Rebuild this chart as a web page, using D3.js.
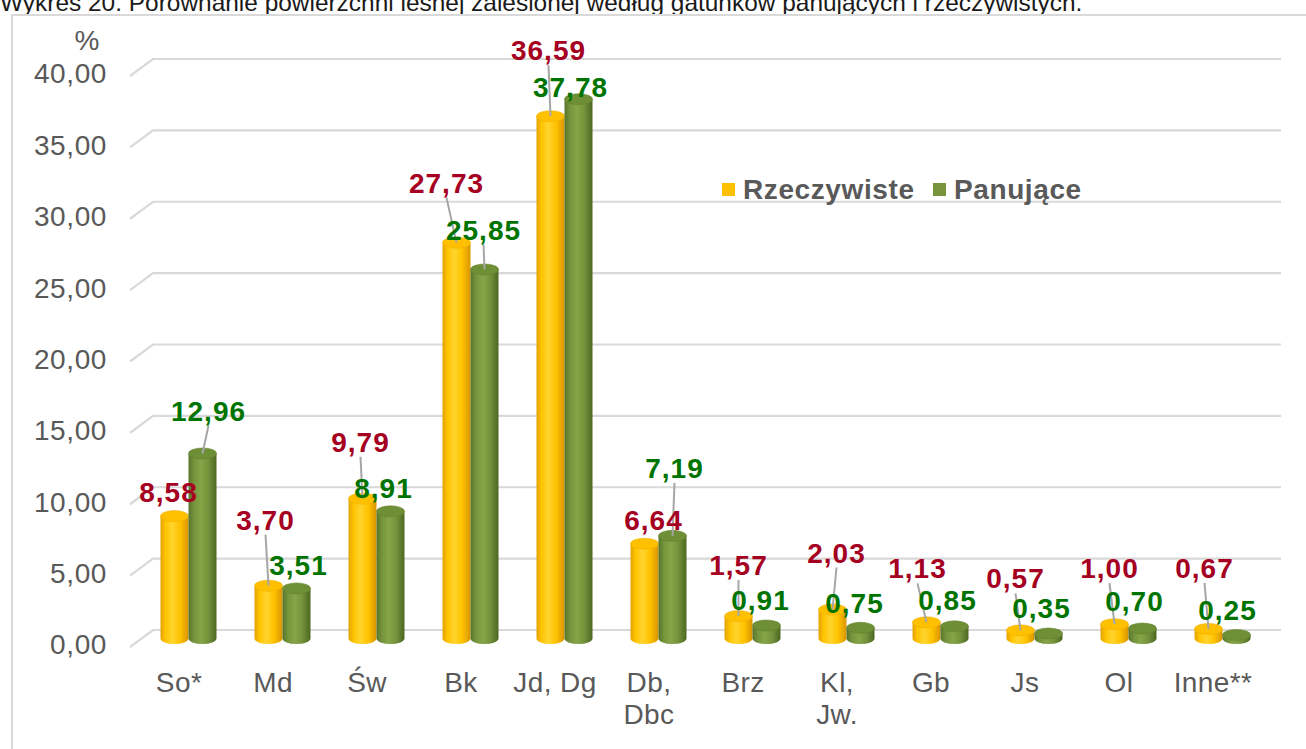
<!DOCTYPE html>
<html><head><meta charset="utf-8">
<script src="https://cdn.jsdelivr.net/npm/d3@7"></script>
<style>body{margin:0;background:#fff}svg{display:block}text{font-family:"Liberation Sans",Arial,sans-serif}</style>
</head><body>
<svg id="c" width="1306" height="749"></svg>
<script>
const titleText = "Wykres 20. Porównanie powierzchni leśnej zalesionej według gatunków panujących i rzeczywistych.";
const categories = ["So*","Md","Św","Bk","Jd, Dg","Db,\nDbc","Brz","Kl,\nJw.","Gb","Js","Ol","Inne**"];
const seriesNames = ["Rzeczywiste","Panujące"];
const rzeczywiste = [8.58,3.70,9.79,27.73,36.59,6.64,1.57,2.03,1.13,0.57,1.00,0.67];
const panujace = [12.96,3.51,8.91,25.85,37.78,7.19,0.91,0.75,0.85,0.35,0.70,0.25];
const yTicks = [0,5,10,15,20,25,30,35,40];
// manual label nudges (dx, dy from bar top), as placed in the original
const nudgeR = [[-6,-24],[-3,-66],[-2,-57],[-10,-60],[-2,-66],[9,-24],[0,-51],[4,-57],[-9,-54],[-5,-52],[-5,-56],[-4,-61]];
const nudgeP = [[6,-43],[2,-23],[-7,-23],[-1,-40],[-8,-12],[2,-68],[-6,-26],[-6,-25],[-7,-26],[-7,-26],[-8,-28],[-9,-25]];

const fmt = v => d3.format(".2f")(v).replace(".", ",");
const svg = d3.select("#c");
const defs = svg.append("defs");
function grad(id, stops){
  const g = defs.append("linearGradient").attr("id", id).attr("x1","0%").attr("x2","100%").attr("y1","0%").attr("y2","0%");
  stops.forEach(s => g.append("stop").attr("offset", s[0]).attr("stop-color", s[1]));
}
grad("gY", [["0%","#E3A200"],["18%","#FFC400"],["42%","#FFD42E"],["70%","#FFC300"],["100%","#D89500"]]);
grad("gG", [["0%","#56742A"],["20%","#76953D"],["45%","#85A548"],["72%","#72913A"],["100%","#4D6722"]]);
const colors = ["url(#gY)","url(#gG)"];
const topColors = ["#FFC000","#6E8F36"];
const labelColors = ["#A50021","#007400"];

// title (cropped at top in the original)
const title = svg.append("text").attr("x",0).attr("y",11).attr("fill","#1a1a1a").attr("font-size",20).text(titleText);
const tl = title.node().getComputedTextLength();
title.attr("font-size", 20*1083/tl);

// frame
svg.append("rect").attr("x",12).attr("y",15).attr("width",1320).attr("height",760).attr("fill","none").attr("stroke","#D9D9D9").attr("stroke-width",2);

const x0 = 130, x1 = 1258;
const depth = {dx:23, dy:-17};
const y = d3.scaleLinear().domain([0,40]).range([647,76]);
const x = d3.scaleBand().domain(categories).range([x0,x1]).paddingInner(0).paddingOuter(0);
const sub = d3.scaleBand().domain(seriesNames).range([0,56]);

// gridlines (3D wall)
const grid = svg.append("g");
yTicks.forEach(t => {
  const yy = y(t);
  grid.append("path").attr("d", `M${x0},${yy}L${x0+depth.dx},${yy+depth.dy}L${x1+depth.dx},${yy+depth.dy}`)
    .attr("fill","none").attr("stroke","#D9D9D9").attr("stroke-width",2.2);
});

// y axis labels
const yAxis = d3.axisLeft(y).tickValues(yTicks).tickFormat(fmt).tickSize(0).tickPadding(0);
const ga = svg.append("g").attr("transform",`translate(107,-2)`).call(yAxis);
ga.select(".domain").remove();
ga.selectAll("text").attr("font-size",28).attr("letter-spacing","0.6px").attr("fill","#595959").style("font-family",'"Liberation Sans",Arial,sans-serif');
svg.append("text").attr("x",87).attr("y",50).attr("text-anchor","middle").attr("font-size",28).attr("fill","#595959").text("%");

// x axis labels
const xAxis = d3.axisBottom(x).tickSize(0).tickFormat("");
const gx = svg.append("g").attr("transform",`translate(2,${y(0)})`).call(xAxis);
gx.select(".domain").remove();
gx.selectAll(".tick").each(function(d){
  const lines = d.split("\n");
  const t = d3.select(this).append("text").attr("text-anchor","middle").attr("font-size",28).attr("letter-spacing","0.4px").attr("fill","#595959");
  lines.forEach((ln,i)=> t.append("tspan").attr("x", 0).attr("y", 45 + i*32).text(ln));
});

// bars (cylinders)
const baseY = y(0) + depth.dy/2;
const off = depth.dx/2;
const bw = 28, ry = 5.5;
const series = [rzeczywiste, panujace];
const barsG = svg.append("g");
const tops = [[],[]];
categories.forEach((c,i) => {
  series.forEach((vals,s) => {
    const v = vals[i];
    const xl = x(c) + off + (x.bandwidth()-sub.range()[1])/2 + sub(seriesNames[s]);
    const h = v * (y(0)-y(1));
    const yt = baseY - h;
    const rx = bw/2, cx = xl + rx;
    tops[s][i] = [cx, yt];
    barsG.append("path")
      .attr("d", `M${xl},${yt}L${xl},${baseY}A${rx},${ry} 0 0 0 ${xl+bw},${baseY}L${xl+bw},${yt}Z`)
      .attr("fill", colors[s]);
    barsG.append("ellipse").attr("cx",cx).attr("cy",yt).attr("rx",rx).attr("ry",ry)
      .attr("fill", topColors[s]).attr("stroke", s===0?"#F2B000":"#65832F").attr("stroke-width",0.6);
  });
});

// data labels with leader lines
const labG = svg.append("g");
[nudgeR, nudgeP].forEach((nudge,s) => {
  series[s].forEach((v,i) => {
    const [cx,yt] = tops[s][i];
    const [dx,dy] = nudge[i];
    const lx = cx+dx, ly = yt+dy;
    if (Math.abs(dy) > 38) {
      labG.append("line").attr("x1",lx).attr("y1",ly+15).attr("x2",cx).attr("y2",yt)
        .attr("stroke","#A6A6A6").attr("stroke-width",2);
    }
  });
});
[nudgeR, nudgeP].forEach((nudge,s) => {
  series[s].forEach((v,i) => {
    const [cx,yt] = tops[s][i];
    const [dx,dy] = nudge[i];
    labG.append("text").attr("x",cx+dx).attr("y",yt+dy).attr("dy","0.36em").attr("text-anchor","middle")
      .attr("font-size",28).attr("letter-spacing","1px").attr("font-weight","bold").attr("fill",labelColors[s]).text(fmt(v));
  });
});

// legend
const leg = svg.append("g");
const legX = [722, 933];
seriesNames.forEach((n,s) => {
  leg.append("rect").attr("x",legX[s]).attr("y",183).attr("width",13).attr("height",13).attr("fill", s===0?"#FFC000":"#77933C");
  leg.append("text").attr("x",legX[s]+21).attr("y",199).attr("font-size",28).attr("letter-spacing","0.6px").attr("font-weight","bold").attr("fill","#595959").text(n);
});
</script>
</body></html>
